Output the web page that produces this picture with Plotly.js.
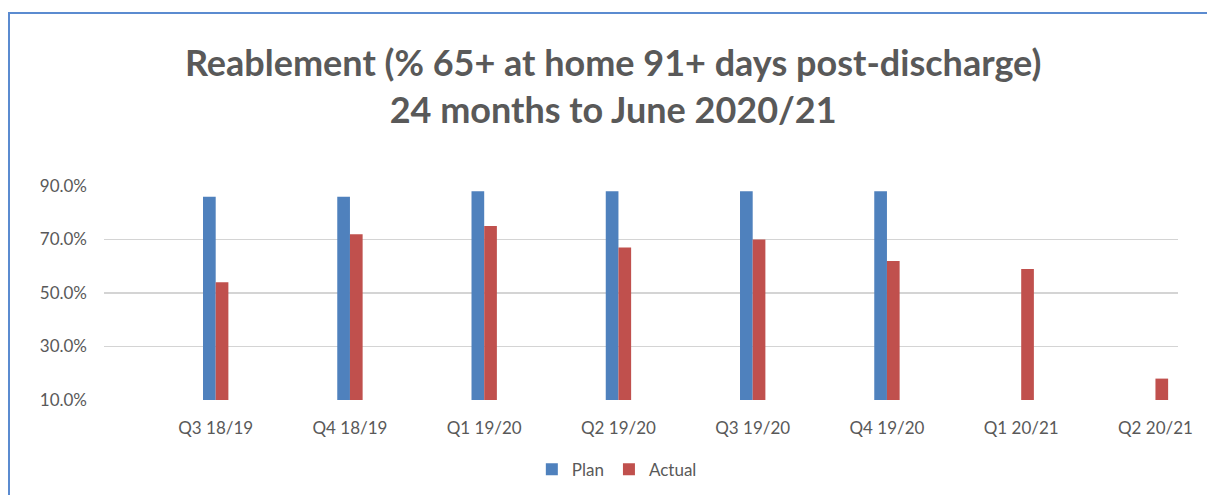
<!DOCTYPE html>
<html>
<head>
<meta charset="utf-8">
<script src="https://cdn.plot.ly/plotly-3.0.1.min.js"></script>
<style>
  html, body { margin: 0; padding: 0; background: #fff; }
  #wrap { position: relative; width: 1207px; height: 495px; }
  #chart { width: 1207px; height: 495px; }
  #frame { position: absolute; left: 8px; top: 12px; right: -5px; bottom: -5px;
           border-left: 2px solid #5b8bd0; border-top: 2px solid #5b8bd0; pointer-events: none; }
</style>
</head>
<body>
<div id="wrap">
  <div id="chart"></div>
  <div id="frame"></div>
</div>
<script>
const categories = ["Q3 18/19", "Q4 18/19", "Q1 19/20", "Q2 19/20", "Q3 19/20", "Q4 19/20", "Q1 20/21", "Q2 20/21"];
const planValues = [86, 86, 88, 88, 88, 88, null, null];
const actualValues = [54, 72, 75, 67, 70, 62, 59, 18];
const yTicks = [10, 30, 50, 70, 90];

const textColor = "#595959";
const font = "Lato, 'Open Sans', sans-serif";

const data = [
  { type: "bar", name: "Plan", x: categories, y: planValues, marker: { color: "#4f81bd" } },
  { type: "bar", name: "Actual", x: categories, y: actualValues, marker: { color: "#c0504d" } }
];

const layout = {
  width: 1207, height: 495,
  paper_bgcolor: "rgba(0,0,0,0)", plot_bgcolor: "#fff",
  margin: { l: 104, r: 29, t: 185.5, b: 95, autoexpand: false },
  font: { family: font, color: textColor, size: 17 },
  title: {
    text: "<b>Reablement (% 65+ at home 91+ days post-discharge)<br>24 months to June 2020/21</b>",
    font: { family: font, size: 36, color: textColor },
    x: 0.508, xanchor: "center", y: 0.847, yanchor: "top"
  },
  barmode: "group",
  bargap: 0.811,
  bargroupgap: 0,
  xaxis: {
    type: "category",
    range: [-0.832, 7.168],
    showgrid: false, zeroline: false, showline: false,
    ticks: "", tickfont: { size: 17, color: textColor },
    ticklabelstandoff: 16, automargin: false
  },
  yaxis: {
    range: [10, 90],
    tickvals: yTicks,
    ticktext: yTicks.map(v => v.toFixed(1) + "%"),
    showgrid: true, gridcolor: "#d4d4d4", gridwidth: 1.5,
    zeroline: false, showline: false, ticks: "",
    tickfont: { size: 17, color: textColor },
    ticklabelstandoff: 16, automargin: false
  },
  showlegend: true,
  legend: {
    orientation: "h", x: 0.4775, xanchor: "center", y: -0.326, yanchor: "middle",
    font: { size: 17, color: textColor }, itemwidth: 30
  }
};

Plotly.newPlot("chart", data, layout, { displayModeBar: false, staticPlot: true });
</script>
</body>
</html>
